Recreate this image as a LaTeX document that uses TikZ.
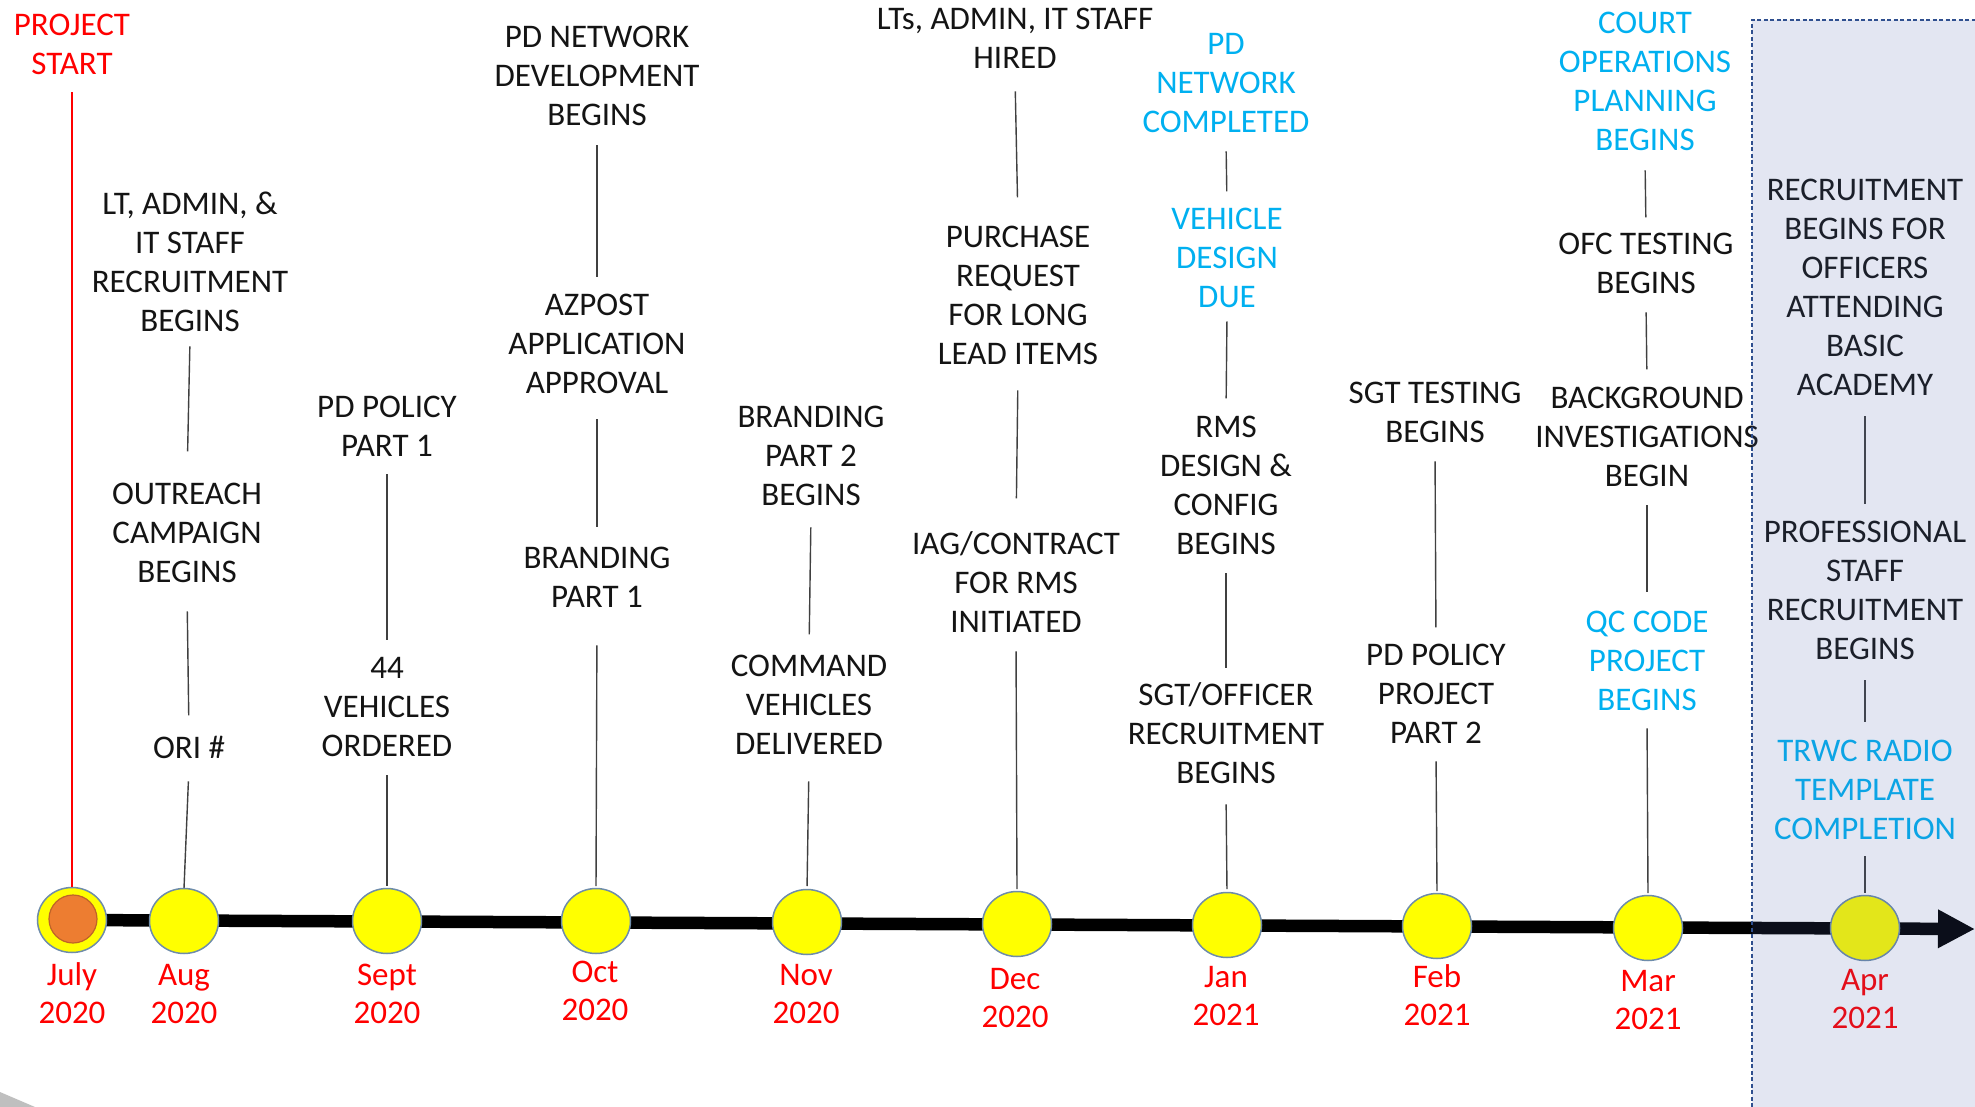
\documentclass[tikz,border=0pt]{standalone}
\usepackage{fontspec}
\setmainfont{Carlito}
\usetikzlibrary{shapes.geometric,arrows.meta}
\definecolor{cy}{RGB}{0,176,240}
\definecolor{rd}{RGB}{255,0,0}
\definecolor{cn}{RGB}{64,64,64}
\definecolor{ol}{RGB}{110,140,170}
\definecolor{og}{RGB}{237,125,49}
\definecolor{ogb}{RGB}{190,100,40}
\definecolor{ovl}{RGB}{72,98,170}
\definecolor{bd}{RGB}{47,79,143}
\definecolor{yl}{RGB}{255,255,0}
\definecolor{tx}{RGB}{20,20,20}
\newcommand\lbl[1]{\rule{0pt}{24pt}#1\rule[-8pt]{0pt}{8pt}}
\newcommand\cnx[4]{\draw[conn, shorten <=#3pt, shorten >=#4pt] (#1.south) -- (#2.north);}
\begin{document}
\begin{tikzpicture}[x=1pt,y=-1pt,
  txt/.style={font=\fontsize{33}{39}\selectfont, align=center, anchor=north,
    inner sep=0pt, outer sep=0pt, yshift=13.4pt, text=tx},
  blue/.style={txt, text=cy},
  mon/.style={txt, font=\fontsize{33}{38}\selectfont, text=rd},
  dot/.style={ellipse, minimum width=69pt, minimum height=65pt, inner sep=0pt,
    outer sep=0pt, fill=yl, draw=ol, line width=1.5pt},
  conn/.style={draw=cn, line width=1.4pt},
  redline/.style={draw=rd, line width=2.5pt}]
\useasboundingbox (0,0) rectangle (1975,1107);
\fill[white] (0,0) rectangle (1975,1107);
\fill[black!25] (0,1092) -- (35,1107) -- (0,1107) -- cycle;

% timeline
\coordinate (tip) at (1975,929);
\coordinate (start) at (72,920);
\draw[line width=12.5pt, -{Triangle[length=37pt,width=36pt]}] (start) -- (tip);

% milestones
\node[dot] (jul) at (72,920) {};
\node[circle, minimum size=48pt, inner sep=0pt, fill=og, draw=ogb, line width=1.2pt] (julin) at (73,919) {};
\node[dot] (aug) at (184,921) {};
\node[dot] (sep) at (387,921) {};
\node[dot] (oct) at (596,921) {};
\node[dot] (nov) at (807,922) {};
\node[dot] (dec) at (1017,924) {};
\node[dot] (jan) at (1227,925) {};
\node[dot] (feb) at (1437,926) {};
\node[dot] (mar) at (1648,928) {};
\node[dot] (apr) at (1865,928) {};

% month labels
\node[mon] (mjul) at (72,975) {\lbl{July\\2020}};
\node[mon] (maug) at (184,975) {\lbl{Aug\\2020}};
\node[mon] (msep) at (387,975) {\lbl{Sept\\2020}};
\node[mon] (moct) at (595,972) {\lbl{Oct\\2020}};
\node[mon] (mnov) at (806,975) {\lbl{Nov\\2020}};
\node[mon] (mdec) at (1015,979) {\lbl{Dec\\2020}};
\node[mon] (mjan) at (1226,977) {\lbl{Jan\\2021}};
\node[mon] (mfeb) at (1437,977) {\lbl{Feb\\2021}};
\node[mon] (mmar) at (1648,981) {\lbl{Mar\\2021}};
\node[mon] (mapr) at (1865,980) {\lbl{Apr\\2021}};

% July
\node[txt, text=rd] (P) at (72,25) {\lbl{PROJECT\\START}};
\draw[redline, shorten <=9.7pt, shorten >=1pt] (P.south) -- (jul.north);

% Aug
\node[txt] (A1) at (190,204) {\lbl{LT, ADMIN, \&\\IT STAFF\\RECRUITMENT\\BEGINS}};
\node[txt] (A2) at (187,494) {\lbl{OUTREACH\\CAMPAIGN\\BEGINS}};
\node[txt] (A3) at (189,748) {\lbl{ORI \#}};
\cnx{A1}{A2}{6.7}{29.3}
\cnx{A2}{A3}{20.7}{19.3}
\cnx{A3}{aug}{14.7}{0.5}

% Sept
\node[txt] (S1) at (387,407) {\lbl{PD POLICY\\PART 1}};
\node[txt] (S2) at (387,668) {\lbl{44\\VEHICLES\\ORDERED}};
\cnx{S1}{S2}{9.7}{14.3}
\cnx{S2}{sep}{10.7}{2.5}

% Oct
\node[txt] (O1) at (597,37) {\lbl{PD NETWORK\\DEVELOPMENT\\BEGINS}};
\node[txt] (O2) at (597,305) {\lbl{AZPOST\\APPLICATION\\APPROVAL}};
\node[txt] (O3) at (597,558) {\lbl{BRANDING\\PART 1}};
\cnx{O1}{O2}{11.7}{14.3}
\cnx{O2}{O3}{17.7}{17.3}
\cnx{O3}{oct}{29.7}{2.5}

% Nov
\node[txt] (N1) at (811,417) {\lbl{BRANDING\\PART 2\\BEGINS}};
\node[txt] (N2) at (809,666) {\lbl{COMMAND\\VEHICLES\\DELIVERED}};
\cnx{N1}{N2}{13.7}{18.3}
\cnx{N2}{nov}{18.7}{3.5}

% Dec
\node[txt] (D1) at (1015,19) {\lbl{LTs, ADMIN, IT STAFF\\HIRED}};
\node[txt] (D2) at (1018,237) {\lbl{PURCHASE\\REQUEST\\FOR LONG\\LEAD ITEMS}};
\node[txt] (D3) at (1016,544) {\lbl{IAG/CONTRACT\\FOR RMS\\INITIATED}};
\cnx{D1}{D2}{14.7}{26.3}
\cnx{D2}{D3}{17.7}{32.3}
\cnx{D3}{dec}{10.7}{2.5}

% Jan
\node[blue] (J1) at (1226,44) {\lbl{PD\\NETWORK\\COMPLETED}};
\node[blue] (J2) at (1227,219) {\lbl{VEHICLE\\DESIGN\\DUE}};
\node[txt] (J3) at (1226,427) {\lbl{RMS\\DESIGN \&\\CONFIG\\BEGINS}};
\node[txt] (J4) at (1226,695) {\lbl{SGT/OFFICER\\RECRUITMENT\\BEGINS}};
\cnx{J1}{J2}{10.7}{14.3}
\cnx{J2}{J3}{5.7}{15.3}
\cnx{J3}{J4}{10.7}{13.3}
\cnx{J4}{jan}{12.7}{3.5}

% Feb
\node[txt] (F1) at (1435,393) {\lbl{SGT TESTING\\BEGINS}};
\node[txt] (F2) at (1436,655) {\lbl{PD POLICY\\PROJECT\\PART 2}};
\cnx{F1}{F2}{10.7}{14.3}
\cnx{F2}{feb}{9.7}{2.5}

% Mar
\node[blue] (M1) at (1645,23) {\lbl{COURT\\OPERATIONS\\PLANNING\\BEGINS}};
\node[txt] (M2) at (1646,244) {\lbl{OFC TESTING\\BEGINS}};
\node[txt] (M3) at (1647,398) {\lbl{BACKGROUND\\INVESTIGATIONS\\BEGIN}};
\node[blue] (M4) at (1647,622) {\lbl{QC CODE\\PROJECT\\BEGINS}};
\cnx{M1}{M2}{11.7}{13.3}
\cnx{M2}{M3}{10.7}{15.3}
\cnx{M3}{M4}{10.7}{16.3}
\cnx{M4}{mar}{9.7}{2.5}

% Apr
\node[txt] (R1) at (1865,190) {\lbl{RECRUITMENT\\BEGINS FOR\\OFFICERS\\ATTENDING\\BASIC\\ACADEMY}};
\node[txt] (R2) at (1865,532) {\lbl{PROFESSIONAL\\STAFF\\RECRUITMENT\\BEGINS}};
\node[blue] (R3) at (1865,751) {\lbl{TRWC RADIO\\TEMPLATE\\COMPLETION}};
\cnx{R1}{R2}{12.7}{14.3}
\cnx{R2}{R3}{12.7}{15.3}
\cnx{R3}{apr}{8.7}{2.5}

% shaded region
\begin{scope}
\clip (0,0) rectangle (1975,1107);
\fill[ovl, fill opacity=0.153] (1752,20) rectangle (1995,1120);
\draw[bd, dash pattern=on 4pt off 2.5pt, line width=2pt] (1752,1120) -- (1752,20) -- (1995,20);
\end{scope}
\end{tikzpicture}
\end{document}
